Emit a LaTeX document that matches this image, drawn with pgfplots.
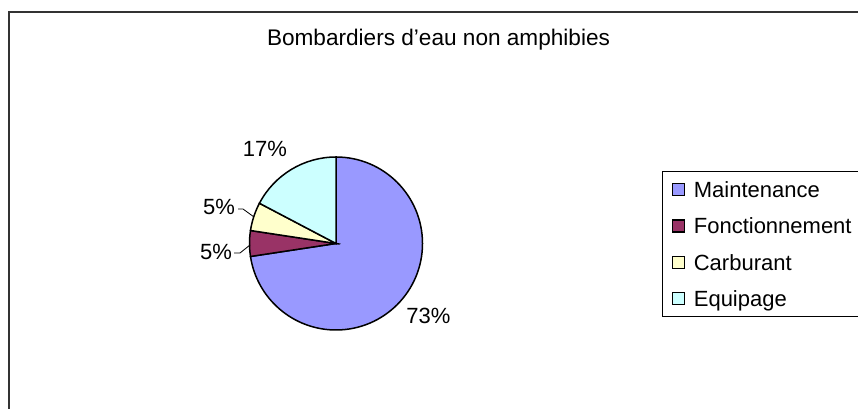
\documentclass[border=0pt]{standalone}
\usepackage{fontspec}
\setmainfont{Liberation Sans}
\usepackage{pgfplots}
\usepackage{pgfplotstable}
\pgfplotsset{compat=1.18}

\definecolor{cMaint}{HTML}{9999FF}
\definecolor{cFonc}{HTML}{993366}
\definecolor{cCarb}{HTML}{FFFFCC}
\definecolor{cEquip}{HTML}{CCFFFF}

% parts of the cost, in percent
\pgfplotstableread{
name value
Maintenance 72.6
Fonctionnement 4.8
Carburant 5.3
Equipage 17.3
}\piedata

\pgfplotstablegetelem{0}{value}\of\piedata \let\vA\pgfplotsretval
\pgfplotstablegetelem{1}{value}\of\piedata \let\vB\pgfplotsretval
\pgfplotstablegetelem{2}{value}\of\piedata \let\vC\pgfplotsretval
\pgfplotstablegetelem{3}{value}\of\piedata \let\vD\pgfplotsretval
% slice boundaries, clockwise from 12 o'clock
\pgfmathsetmacro\aA{90-3.6*\vA}
\pgfmathsetmacro\aB{\aA-3.6*\vB}
\pgfmathsetmacro\aC{\aB-3.6*\vC}
\pgfmathsetmacro\aD{\aC-3.6*\vD}
\newcommand\pieR{43.25bp}

\begin{document}
\begin{tikzpicture}[font=\fontsize{11bp}{13bp}\selectfont]
\useasboundingbox (0,0) rectangle (429bp,204.5bp);
\clip (0,0) rectangle (429bp,204.5bp);
\begin{axis}[
  hide axis, scale only axis, clip=false,
  at={(0,0)}, anchor=south west,
  width=429bp, height=204.5bp,
  xmin=0, xmax=858, ymin=0, ymax=409,
  legend image code/.code={\draw[#1, draw=black, line width=0.6bp] (0bp,-3bp) rectangle (6bp,3bp);},
  legend style={at={(0.7716,0.5819)}, anchor=north west, draw=black, line width=0.6bp,
    inner xsep=4.5bp, inner ysep=0pt, column sep=4.5bp, row sep=0pt,
    cells={anchor=west},
    nodes={inner sep=0pt, minimum height=18.15bp, text height=7.9bp, text depth=0pt,
      font=\fontsize{11bp}{13bp}\selectfont}},
]
% chart frame
\draw[line width=0.75bp, black!80] (axis cs:9,-10) -- (axis cs:9,397) -- (axis cs:880,397);
% title
\node[anchor=base, font=\fontsize{11.3bp}{13bp}\selectfont] at (axis cs:438.5,363) {Bombardiers d’eau non amphibies};

% slices
\filldraw[fill=cMaint, line width=0.75bp] (axis cs:336,165.5) -- ++(90:\pieR) arc[start angle=90, end angle=\aA, radius=\pieR] -- cycle;
\filldraw[fill=cFonc, line width=0.75bp] (axis cs:336,165.5) -- ++(\aA:\pieR) arc[start angle=\aA, end angle=\aB, radius=\pieR] -- cycle;
\filldraw[fill=cCarb, line width=0.75bp] (axis cs:336,165.5) -- ++(\aB:\pieR) arc[start angle=\aB, end angle=\aC, radius=\pieR] -- cycle;
\filldraw[fill=cEquip, line width=0.75bp] (axis cs:336,165.5) -- ++(\aC:\pieR) arc[start angle=\aC, end angle=\aD, radius=\pieR] -- cycle;

% leader lines
\draw[line width=0.4bp] (axis cs:238,200) -- (axis cs:243,200) -- (axis cs:254,192);
\draw[line width=0.4bp] (axis cs:234,156) -- (axis cs:240,156) -- (axis cs:250,164);

% percentage labels
\begin{scope}[every node/.style={inner sep=0pt, text height=7.9bp, text depth=0pt, anchor=center}]
\node at (axis cs:428.5,93.5) {73\%};
\node at (axis cs:216,157) {5\%};
\node at (axis cs:219,202) {5\%};
\node at (axis cs:265,260) {17\%};
\end{scope}

\addlegendimage{fill=cMaint}
\addlegendentry{Maintenance}
\addlegendimage{fill=cFonc}
\addlegendentry{Fonctionnement\hspace*{12bp}}
\addlegendimage{fill=cCarb}
\addlegendentry{Carburant}
\addlegendimage{fill=cEquip}
\addlegendentry{Equipage}
\end{axis}
\end{tikzpicture}
\end{document}
